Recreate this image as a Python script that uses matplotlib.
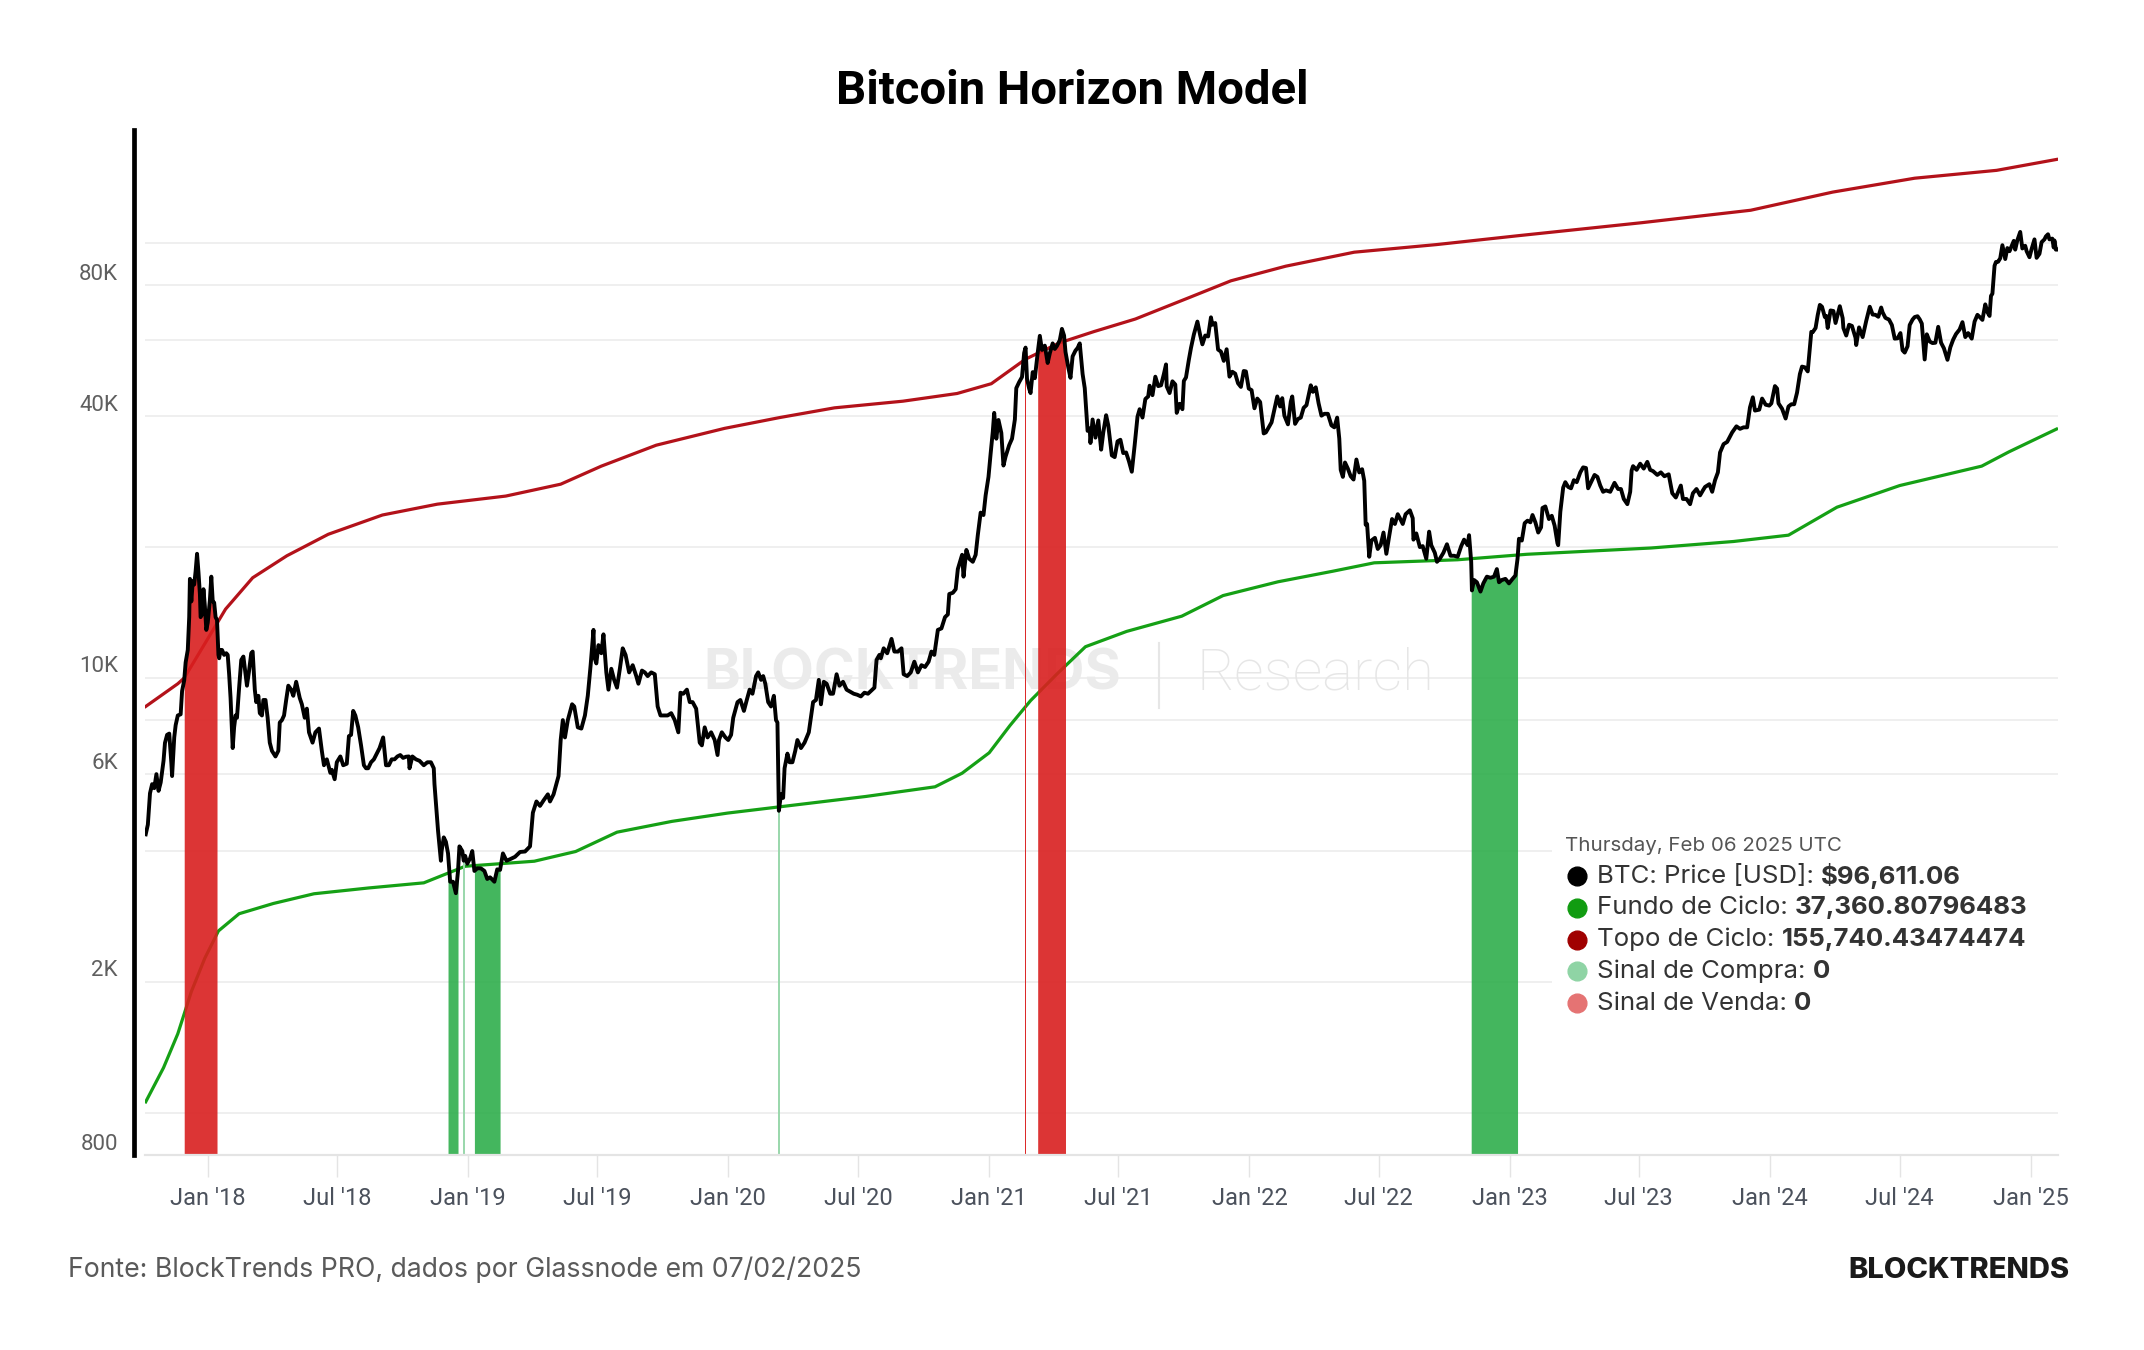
import pandas as pd
import matplotlib
matplotlib.use("Agg")
import matplotlib.pyplot as plt
import matplotlib.dates as mdates
import matplotlib.transforms as mtransforms
from matplotlib.patches import Rectangle
from matplotlib.lines import Line2D
from matplotlib.ticker import NullLocator

# BTC price (USD)
btc_price = [
    ("2017-10-06", 4370), ("2017-10-09", 4600), ("2017-10-12", 5430), ("2017-10-15", 5700),
    ("2017-10-18", 5580), ("2017-10-21", 6010), ("2017-10-24", 5500), ("2017-10-27", 5750),
    ("2017-10-31", 6450), ("2017-11-02", 7090), ("2017-11-05", 7400), ("2017-11-08", 7450),
    ("2017-11-11", 6360), ("2017-11-12", 5950), ("2017-11-15", 7300), ("2017-11-17", 7790),
    ("2017-11-20", 8200), ("2017-11-24", 8250), ("2017-11-26", 9330), ("2017-11-29", 9880),
    ("2017-12-01", 10860), ("2017-12-04", 11600), ("2017-12-06", 13800), ("2017-12-07", 16900),
    ("2017-12-09", 15000), ("2017-12-11", 16700), ("2017-12-13", 16400), ("2017-12-15", 17600),
    ("2017-12-17", 19300), ("2017-12-19", 17500), ("2017-12-21", 15600), ("2017-12-22", 13800),
    ("2017-12-24", 14000), ("2017-12-26", 16000), ("2017-12-28", 14600), ("2017-12-30", 12900),
    ("2018-01-01", 13400), ("2018-01-04", 15100), ("2018-01-06", 17100), ("2018-01-08", 15000),
    ("2018-01-10", 14900), ("2018-01-12", 13800), ("2018-01-14", 13600), ("2018-01-16", 11300),
    ("2018-01-17", 11100), ("2018-01-19", 11600), ("2018-01-21", 11600), ("2018-01-24", 11300),
    ("2018-01-27", 11400), ("2018-01-29", 11300), ("2018-01-31", 10200), ("2018-02-02", 9000),
    ("2018-02-05", 6900), ("2018-02-07", 7700), ("2018-02-09", 8200), ("2018-02-11", 8100),
    ("2018-02-14", 9500), ("2018-02-17", 11000), ("2018-02-20", 11200), ("2018-02-23", 10200),
    ("2018-02-25", 9600), ("2018-02-28", 10400), ("2018-03-03", 11400), ("2018-03-05", 11500),
    ("2018-03-08", 9400), ("2018-03-10", 8800), ("2018-03-13", 9100), ("2018-03-15", 8300),
    ("2018-03-18", 8200), ("2018-03-20", 8900), ("2018-03-23", 8900), ("2018-03-26", 8100),
    ("2018-03-29", 7100), ("2018-04-01", 6800), ("2018-04-06", 6600), ("2018-04-10", 6800),
    ("2018-04-12", 7900), ("2018-04-15", 8000), ("2018-04-18", 8200), ("2018-04-21", 8900),
    ("2018-04-24", 9600), ("2018-04-28", 9400), ("2018-05-01", 9100), ("2018-05-05", 9800),
    ("2018-05-10", 9000), ("2018-05-13", 8700), ("2018-05-17", 8100), ("2018-05-20", 8500),
    ("2018-05-23", 7500), ("2018-05-28", 7100), ("2018-06-01", 7500), ("2018-06-06", 7650),
    ("2018-06-10", 6800), ("2018-06-13", 6300), ("2018-06-17", 6500), ("2018-06-22", 6050),
    ("2018-06-24", 6150), ("2018-06-28", 5850), ("2018-07-01", 6400), ("2018-07-06", 6600),
    ("2018-07-10", 6300), ("2018-07-15", 6350), ("2018-07-18", 7350), ("2018-07-21", 7400),
    ("2018-07-24", 8400), ("2018-07-27", 8200), ("2018-07-31", 7700), ("2018-08-04", 7000),
    ("2018-08-08", 6300), ("2018-08-11", 6200), ("2018-08-14", 6200), ("2018-08-18", 6400),
    ("2018-08-22", 6500), ("2018-08-26", 6700), ("2018-08-30", 6900), ("2018-09-04", 7300),
    ("2018-09-08", 6300), ("2018-09-12", 6300), ("2018-09-16", 6500), ("2018-09-20", 6500),
    ("2018-09-24", 6600), ("2018-09-28", 6650), ("2018-10-02", 6550), ("2018-10-06", 6590),
    ("2018-10-10", 6600), ("2018-10-11", 6200), ("2018-10-15", 6600), ("2018-10-20", 6500),
    ("2018-10-25", 6450), ("2018-10-31", 6300), ("2018-11-05", 6400), ("2018-11-10", 6400),
    ("2018-11-14", 6200), ("2018-11-15", 5700), ("2018-11-19", 4700), ("2018-11-20", 4450),
    ("2018-11-24", 3800), ("2018-11-25", 4000), ("2018-11-28", 4300), ("2018-12-01", 4200),
    ("2018-12-04", 3950), ("2018-12-07", 3400), ("2018-12-11", 3400), ("2018-12-15", 3200),
    ("2018-12-18", 3600), ("2018-12-20", 4100), ("2018-12-24", 4000), ("2018-12-26", 3800),
    ("2018-12-28", 3900), ("2018-12-31", 3740), ("2019-01-04", 3850), ("2019-01-07", 4000),
    ("2019-01-10", 3600), ("2019-01-14", 3650), ("2019-01-19", 3650), ("2019-01-24", 3600),
    ("2019-01-28", 3450), ("2019-02-01", 3480), ("2019-02-07", 3400), ("2019-02-11", 3630),
    ("2019-02-15", 3620), ("2019-02-19", 3950), ("2019-02-24", 3800), ("2019-03-01", 3830),
    ("2019-03-08", 3880), ("2019-03-15", 3980), ("2019-03-22", 3990), ("2019-03-29", 4100),
    ("2019-04-02", 4900), ("2019-04-07", 5200), ("2019-04-12", 5080), ("2019-04-17", 5230),
    ("2019-04-23", 5400), ("2019-04-26", 5200), ("2019-05-01", 5400), ("2019-05-08", 5950),
    ("2019-05-11", 7200), ("2019-05-14", 8000), ("2019-05-17", 7300), ("2019-05-21", 8000),
    ("2019-05-27", 8700), ("2019-05-30", 8600), ("2019-06-04", 7700), ("2019-06-09", 7650),
    ("2019-06-14", 8200), ("2019-06-18", 9100), ("2019-06-22", 10700), ("2019-06-26", 12900),
    ("2019-06-27", 11200), ("2019-06-30", 10800), ("2019-07-03", 11900), ("2019-07-07", 11400),
    ("2019-07-10", 12600), ("2019-07-14", 10300), ("2019-07-17", 9400), ("2019-07-21", 10500),
    ("2019-07-25", 9900), ("2019-07-29", 9500), ("2019-08-02", 10500), ("2019-08-06", 11700),
    ("2019-08-10", 11300), ("2019-08-15", 10300), ("2019-08-20", 10700), ("2019-08-25", 10100),
    ("2019-08-28", 9700), ("2019-09-02", 10400), ("2019-09-06", 10300), ("2019-09-10", 10100),
    ("2019-09-15", 10300), ("2019-09-20", 10200), ("2019-09-24", 8600), ("2019-09-28", 8200),
    ("2019-10-03", 8200), ("2019-10-08", 8200), ("2019-10-13", 8300), ("2019-10-18", 8000),
    ("2019-10-23", 7500), ("2019-10-26", 9250), ("2019-10-30", 9200), ("2019-11-04", 9400),
    ("2019-11-08", 8800), ("2019-11-12", 8800), ("2019-11-17", 8500), ("2019-11-22", 7100),
    ("2019-11-25", 7000), ("2019-11-29", 7700), ("2019-12-03", 7300), ("2019-12-08", 7500),
    ("2019-12-13", 7200), ("2019-12-17", 6650), ("2019-12-19", 7200), ("2019-12-23", 7500),
    ("2019-12-28", 7300), ("2020-01-01", 7200), ("2020-01-05", 7400), ("2020-01-08", 8100),
    ("2020-01-14", 8800), ("2020-01-18", 8900), ("2020-01-23", 8400), ("2020-01-27", 8900),
    ("2020-01-31", 9400), ("2020-02-04", 9200), ("2020-02-09", 10100), ("2020-02-12", 10300),
    ("2020-02-16", 9900), ("2020-02-19", 10100), ("2020-02-22", 9700), ("2020-02-26", 8800),
    ("2020-03-01", 8600), ("2020-03-05", 9100), ("2020-03-08", 8000), ("2020-03-10", 7900),
    ("2020-03-12", 4950), ("2020-03-15", 5400), ("2020-03-18", 5300), ("2020-03-20", 6200),
    ("2020-03-24", 6700), ("2020-03-27", 6400), ("2020-03-31", 6400), ("2020-04-04", 6800),
    ("2020-04-07", 7200), ("2020-04-12", 6900), ("2020-04-17", 7100), ("2020-04-23", 7500),
    ("2020-04-29", 8800), ("2020-05-03", 8900), ("2020-05-07", 9900), ("2020-05-10", 8700),
    ("2020-05-14", 9800), ("2020-05-18", 9700), ("2020-05-23", 9200), ("2020-05-27", 9200),
    ("2020-06-01", 10200), ("2020-06-05", 9600), ("2020-06-10", 9800), ("2020-06-15", 9400),
    ("2020-06-20", 9300), ("2020-06-25", 9200), ("2020-06-30", 9150), ("2020-07-05", 9070),
    ("2020-07-10", 9250), ("2020-07-15", 9200), ("2020-07-21", 9400), ("2020-07-24", 9500),
    ("2020-07-27", 11000), ("2020-07-31", 11300), ("2020-08-02", 11100), ("2020-08-06", 11700),
    ("2020-08-11", 11400), ("2020-08-17", 12300), ("2020-08-21", 11500), ("2020-08-26", 11500),
    ("2020-08-31", 11700), ("2020-09-03", 10200), ("2020-09-08", 10100), ("2020-09-13", 10300),
    ("2020-09-18", 10900), ("2020-09-23", 10300), ("2020-09-28", 10700), ("2020-10-03", 10600),
    ("2020-10-08", 10900), ("2020-10-12", 11500), ("2020-10-16", 11300), ("2020-10-21", 12900),
    ("2020-10-26", 13000), ("2020-10-31", 13800), ("2020-11-04", 14000), ("2020-11-06", 15600),
    ("2020-11-11", 15700), ("2020-11-15", 16000), ("2020-11-18", 17800), ("2020-11-24", 19200),
    ("2020-11-26", 17100), ("2020-11-30", 19700), ("2020-12-04", 18800), ("2020-12-09", 18500),
    ("2020-12-13", 19200), ("2020-12-16", 21300), ("2020-12-20", 24000), ("2020-12-24", 23700),
    ("2020-12-27", 26300), ("2020-12-31", 29000), ("2021-01-03", 32800), ("2021-01-06", 36800),
    ("2021-01-08", 40700), ("2021-01-11", 35500), ("2021-01-14", 39200), ("2021-01-18", 36600),
    ("2021-01-21", 30800), ("2021-01-24", 32300), ("2021-01-29", 34300), ("2021-02-02", 35500),
    ("2021-02-06", 39300), ("2021-02-08", 46400), ("2021-02-12", 47900), ("2021-02-16", 49200),
    ("2021-02-19", 55900), ("2021-02-21", 57500), ("2021-02-23", 48800), ("2021-02-26", 46300),
    ("2021-02-28", 45200), ("2021-03-03", 50500), ("2021-03-06", 48900), ("2021-03-10", 55900),
    ("2021-03-13", 61200), ("2021-03-16", 56800), ("2021-03-20", 58100), ("2021-03-24", 53000),
    ("2021-03-27", 55800), ("2021-03-31", 58800), ("2021-04-03", 57100), ("2021-04-06", 58000),
    ("2021-04-10", 59800), ("2021-04-13", 63500), ("2021-04-16", 61300), ("2021-04-18", 56200),
    ("2021-04-22", 51700), ("2021-04-25", 49000), ("2021-04-28", 54900), ("2021-05-02", 56600),
    ("2021-05-05", 57400), ("2021-05-08", 58800), ("2021-05-12", 50000), ("2021-05-15", 46400),
    ("2021-05-19", 37000), ("2021-05-22", 37500), ("2021-05-23", 34700), ("2021-05-26", 39300),
    ("2021-05-30", 35700), ("2021-06-03", 39100), ("2021-06-07", 33500), ("2021-06-10", 36700),
    ("2021-06-14", 40200), ("2021-06-17", 38100), ("2021-06-22", 32500), ("2021-06-26", 32200),
    ("2021-06-30", 35000), ("2021-07-04", 35300), ("2021-07-08", 32900), ("2021-07-12", 33000),
    ("2021-07-16", 31500), ("2021-07-20", 29800), ("2021-07-24", 34300), ("2021-07-28", 39900),
    ("2021-07-31", 41500), ("2021-08-04", 39700), ("2021-08-08", 43800), ("2021-08-12", 44400),
    ("2021-08-14", 47000), ("2021-08-18", 44700), ("2021-08-22", 49300), ("2021-08-26", 46900),
    ("2021-08-30", 47100), ("2021-09-03", 50000), ("2021-09-06", 52600), ("2021-09-07", 46800),
    ("2021-09-11", 45200), ("2021-09-15", 48100), ("2021-09-19", 47300), ("2021-09-21", 40700),
    ("2021-09-25", 42700), ("2021-09-29", 41500), ("2021-10-01", 48200), ("2021-10-04", 49100),
    ("2021-10-08", 53900), ("2021-10-11", 57400), ("2021-10-15", 61600), ("2021-10-20", 66000),
    ("2021-10-24", 61300), ("2021-10-27", 58500), ("2021-10-31", 61300), ("2021-11-04", 61000),
    ("2021-11-08", 67500), ("2021-11-10", 64900), ("2021-11-14", 65500), ("2021-11-18", 56900),
    ("2021-11-22", 56300), ("2021-11-26", 53600), ("2021-11-30", 57000), ("2021-12-04", 49300),
    ("2021-12-08", 50600), ("2021-12-12", 50100), ("2021-12-16", 47600), ("2021-12-20", 46700),
    ("2021-12-24", 50800), ("2021-12-27", 50700), ("2021-12-31", 46300), ("2022-01-04", 45900),
    ("2022-01-08", 41700), ("2022-01-12", 43900), ("2022-01-16", 43100), ("2022-01-21", 36500),
    ("2022-01-24", 36700), ("2022-01-28", 37700), ("2022-02-01", 38700), ("2022-02-05", 41400),
    ("2022-02-09", 44400), ("2022-02-13", 42100), ("2022-02-16", 44000), ("2022-02-19", 40100),
    ("2022-02-24", 38300), ("2022-02-28", 43200), ("2022-03-02", 44400), ("2022-03-06", 38400),
    ("2022-03-10", 39400), ("2022-03-14", 39700), ("2022-03-18", 41800), ("2022-03-22", 42400),
    ("2022-03-28", 47100), ("2022-03-31", 45500), ("2022-04-04", 46600), ("2022-04-08", 42800),
    ("2022-04-12", 40100), ("2022-04-16", 40500), ("2022-04-21", 40500), ("2022-04-26", 38100),
    ("2022-04-30", 37700), ("2022-05-04", 39700), ("2022-05-07", 35500), ("2022-05-09", 30100),
    ("2022-05-12", 29000), ("2022-05-15", 31300), ("2022-05-19", 30300), ("2022-05-23", 29100),
    ("2022-05-27", 28600), ("2022-05-31", 31800), ("2022-06-04", 29700), ("2022-06-08", 30200),
    ("2022-06-11", 28400), ("2022-06-13", 22500), ("2022-06-15", 22600), ("2022-06-18", 19000),
    ("2022-06-21", 20700), ("2022-06-26", 21000), ("2022-06-30", 19800), ("2022-07-04", 20200),
    ("2022-07-08", 21600), ("2022-07-12", 19300), ("2022-07-16", 21200), ("2022-07-20", 23200),
    ("2022-07-24", 22600), ("2022-07-28", 23800), ("2022-07-31", 23300), ("2022-08-04", 22600),
    ("2022-08-08", 23800), ("2022-08-14", 24300), ("2022-08-18", 23300), ("2022-08-19", 20800),
    ("2022-08-23", 21500), ("2022-08-28", 20000), ("2022-09-01", 20100), ("2022-09-06", 18800),
    ("2022-09-10", 21700), ("2022-09-13", 20200), ("2022-09-18", 19400), ("2022-09-21", 18500),
    ("2022-09-25", 18800), ("2022-09-30", 19400), ("2022-10-05", 20300), ("2022-10-10", 19100),
    ("2022-10-15", 19100), ("2022-10-20", 19000), ("2022-10-25", 20100), ("2022-10-29", 20800),
    ("2022-11-03", 20200), ("2022-11-05", 21300), ("2022-11-08", 18500), ("2022-11-09", 15900),
    ("2022-11-12", 16800), ("2022-11-16", 16600), ("2022-11-21", 15800), ("2022-11-25", 16500),
    ("2022-11-30", 17100), ("2022-12-05", 17000), ("2022-12-10", 17100), ("2022-12-14", 17800),
    ("2022-12-17", 16600), ("2022-12-21", 16800), ("2022-12-26", 16900), ("2022-12-31", 16500),
    ("2023-01-05", 16900), ("2023-01-09", 17200), ("2023-01-12", 18800), ("2023-01-14", 20900),
    ("2023-01-18", 20700), ("2023-01-22", 22700), ("2023-01-26", 23000), ("2023-01-30", 22800),
    ("2023-02-02", 23700), ("2023-02-06", 22800), ("2023-02-10", 21600), ("2023-02-14", 22200),
    ("2023-02-16", 24600), ("2023-02-20", 24800), ("2023-02-25", 23200), ("2023-03-01", 23600),
    ("2023-03-05", 22400), ("2023-03-09", 20400), ("2023-03-10", 20200), ("2023-03-13", 24100),
    ("2023-03-17", 27400), ("2023-03-20", 28200), ("2023-03-24", 27500), ("2023-03-28", 27300),
    ("2023-04-01", 28500), ("2023-04-05", 28200), ("2023-04-10", 29700), ("2023-04-14", 30500),
    ("2023-04-18", 30400), ("2023-04-21", 27300), ("2023-04-26", 28400), ("2023-04-30", 29300),
    ("2023-05-04", 29000), ("2023-05-08", 27700), ("2023-05-12", 26800), ("2023-05-16", 27000),
    ("2023-05-22", 26800), ("2023-05-28", 28100), ("2023-06-02", 27200), ("2023-06-06", 27200),
    ("2023-06-10", 25800), ("2023-06-15", 25100), ("2023-06-19", 26800), ("2023-06-21", 30000),
    ("2023-06-23", 30700), ("2023-06-28", 30100), ("2023-07-03", 31100), ("2023-07-08", 30300),
    ("2023-07-13", 31400), ("2023-07-17", 30100), ("2023-07-21", 29900), ("2023-07-27", 29300),
    ("2023-08-01", 29700), ("2023-08-06", 29100), ("2023-08-12", 29400), ("2023-08-17", 26600),
    ("2023-08-22", 26000), ("2023-08-29", 27700), ("2023-09-01", 25800), ("2023-09-06", 25800),
    ("2023-09-11", 25100), ("2023-09-15", 26600), ("2023-09-20", 27200), ("2023-09-25", 26300),
    ("2023-09-29", 27000), ("2023-10-02", 27500), ("2023-10-08", 27900), ("2023-10-12", 26800),
    ("2023-10-16", 28500), ("2023-10-20", 29700), ("2023-10-23", 33000), ("2023-10-28", 34500),
    ("2023-11-02", 34900), ("2023-11-09", 36700), ("2023-11-15", 37900), ("2023-11-20", 37400),
    ("2023-11-25", 37700), ("2023-11-30", 37700), ("2023-12-04", 41900), ("2023-12-08", 44200),
    ("2023-12-11", 41200), ("2023-12-17", 41400), ("2023-12-21", 43900), ("2023-12-26", 42500),
    ("2023-12-31", 42300), ("2024-01-03", 42800), ("2024-01-08", 46900), ("2024-01-11", 46300),
    ("2024-01-13", 42800), ("2024-01-18", 41600), ("2024-01-23", 39500), ("2024-01-27", 42100),
    ("2024-01-31", 42600), ("2024-02-04", 42600), ("2024-02-08", 45300), ("2024-02-12", 50000),
    ("2024-02-15", 52000), ("2024-02-19", 51800), ("2024-02-23", 50700), ("2024-02-28", 62500),
    ("2024-03-01", 62400), ("2024-03-05", 63800), ("2024-03-08", 68300), ("2024-03-11", 72100),
    ("2024-03-14", 71400), ("2024-03-18", 67600), ("2024-03-20", 68000), ("2024-03-22", 63800),
    ("2024-03-26", 70000), ("2024-03-30", 69800), ("2024-04-02", 65500), ("2024-04-08", 71600),
    ("2024-04-12", 67200), ("2024-04-13", 63800), ("2024-04-17", 61300), ("2024-04-21", 64900),
    ("2024-04-25", 64500), ("2024-04-30", 60600), ("2024-05-01", 58300), ("2024-05-05", 64000),
    ("2024-05-10", 60800), ("2024-05-15", 66200), ("2024-05-20", 71400), ("2024-05-24", 68500),
    ("2024-05-28", 68400), ("2024-06-01", 67700), ("2024-06-05", 71100), ("2024-06-07", 69300),
    ("2024-06-11", 67300), ("2024-06-16", 66700), ("2024-06-20", 64800), ("2024-06-24", 60300),
    ("2024-06-28", 60400), ("2024-07-02", 62100), ("2024-07-05", 56700), ("2024-07-08", 56000),
    ("2024-07-12", 57900), ("2024-07-15", 64800), ("2024-07-19", 66700), ("2024-07-22", 67600),
    ("2024-07-26", 67900), ("2024-07-29", 66800), ("2024-08-01", 65300), ("2024-08-05", 54000),
    ("2024-08-08", 61700), ("2024-08-12", 59400), ("2024-08-16", 58900), ("2024-08-20", 59000),
    ("2024-08-24", 64200), ("2024-08-28", 59000), ("2024-09-01", 57300), ("2024-09-06", 53900),
    ("2024-09-10", 57600), ("2024-09-14", 60000), ("2024-09-18", 61800), ("2024-09-23", 63300),
    ("2024-09-27", 65800), ("2024-10-01", 60800), ("2024-10-05", 62100), ("2024-10-10", 60300),
    ("2024-10-14", 66000), ("2024-10-18", 68400), ("2024-10-22", 67400), ("2024-10-25", 66600),
    ("2024-10-29", 72300), ("2024-11-01", 69400), ("2024-11-04", 68000), ("2024-11-06", 75600),
    ("2024-11-08", 76500), ("2024-11-11", 88700), ("2024-11-13", 90500), ("2024-11-16", 90600),
    ("2024-11-19", 92300), ("2024-11-22", 98900), ("2024-11-26", 91900), ("2024-11-29", 97400),
    ("2024-12-02", 95800), ("2024-12-05", 98500), ("2024-12-08", 101200), ("2024-12-10", 96600),
    ("2024-12-13", 101500), ("2024-12-17", 106100), ("2024-12-20", 97200), ("2024-12-24", 98600),
    ("2024-12-26", 95800), ("2024-12-30", 92800), ("2025-01-02", 96900), ("2025-01-06", 102000),
    ("2025-01-09", 92500), ("2025-01-13", 94500), ("2025-01-16", 100500), ("2025-01-20", 102000),
    ("2025-01-22", 103600), ("2025-01-25", 104800), ("2025-01-27", 102000), ("2025-01-31", 102400),
    ("2025-02-02", 97700), ("2025-02-03", 101400), ("2025-02-05", 96600), ("2025-02-06", 96611),
]

# Topo de Ciclo (red line)
cycle_top = [
    ("2017-10-06", 8600), ("2017-11-20", 9700), ("2017-11-29", 10000), ("2017-12-28", 12000),
    ("2018-01-26", 14400), ("2018-03-05", 17000), ("2018-04-22", 19100), ("2018-06-19", 21400),
    ("2018-09-03", 23700), ("2018-11-19", 25100), ("2019-02-23", 26200), ("2019-05-11", 27900),
    ("2019-07-07", 30700), ("2019-09-22", 34300), ("2019-12-27", 37500), ("2020-03-13", 39700),
    ("2020-05-29", 41800), ("2020-09-02", 43300), ("2020-11-17", 45100), ("2021-01-04", 47500),
    ("2021-02-21", 54100), ("2021-04-10", 59000), ("2021-05-28", 62600), ("2021-07-25", 66900),
    ("2021-10-09", 75000), ("2021-12-06", 81900), ("2022-02-21", 88500), ("2022-05-28", 95300),
    ("2022-09-20", 99200), ("2023-01-13", 104000), ("2023-07-05", 111400), ("2023-12-05", 119000),
    ("2024-03-29", 131000), ("2024-07-22", 141000), ("2024-11-14", 147000), ("2025-02-06", 155740),
]

# Fundo de Ciclo (green line)
cycle_bottom = [
    ("2017-10-06", 1060), ("2017-10-31", 1270), ("2017-11-20", 1520), ("2017-12-09", 1900),
    ("2017-12-28", 2270), ("2018-01-16", 2620), ("2018-02-14", 2870), ("2018-04-03", 3030),
    ("2018-05-30", 3190), ("2018-08-15", 3290), ("2018-10-31", 3380), ("2018-12-28", 3690),
    ("2019-04-04", 3790), ("2019-06-01", 3990), ("2019-07-29", 4420), ("2019-10-14", 4680),
    ("2019-12-31", 4890), ("2020-04-06", 5110), ("2020-07-12", 5340), ("2020-10-17", 5620),
    ("2020-11-24", 6040), ("2021-01-01", 6730), ("2021-01-30", 7770), ("2021-02-28", 8870),
    ("2021-04-07", 10250), ("2021-05-16", 11800), ("2021-07-13", 12800), ("2021-09-28", 13870),
    ("2021-11-25", 15470), ("2022-02-10", 16640), ("2022-04-28", 17600), ("2022-06-25", 18400),
    ("2022-10-20", 18700), ("2023-01-25", 19250), ("2023-07-18", 19900), ("2023-11-11", 20600),
    ("2024-01-27", 21300), ("2024-04-04", 24700), ("2024-07-01", 27700), ("2024-10-24", 30700),
    ("2024-12-01", 33100), ("2025-02-06", 37360),
]

# signal periods (Sinal de Venda / Sinal de Compra)
sell_periods = [("2017-11-29", "2018-01-14"), ("2021-02-21", "2021-02-21"), ("2021-03-10", "2021-04-18")]
buy_periods = [("2018-12-04", "2018-12-18"), ("2018-12-26", "2018-12-26"), ("2019-01-10", "2019-02-18"),
               ("2020-03-12", "2020-03-12"), ("2022-11-08", "2023-01-12")]

grid_values = [1000, 2000, 4000, 6000, 8000, 10000, 20000, 40000, 60000, 80000, 100000]
ylabel_values = [800, 2000, 6000, 10000, 40000, 80000]
ylabel_text = ["800", "2K", "6K", "10K", "40K", "80K"]

legend_date = "Thursday, Feb 06 2025 UTC"
legend_names = ["BTC: Price [USD]: ", "Fundo de Ciclo: ", "Topo de Ciclo: ", "Sinal de Compra: ", "Sinal de Venda: "]
legend_values = ["$96,611.06", "37,360.80796483", "155,740.43474474", "0", "0"]
legend_colors = ["#000000", "#119c11", "#a00000", "#8fd4a5", "#e57373"]

W, H = 2144, 1350
plt.rcParams["font.family"] = ["Roboto", "DejaVu Sans"]


def fx(x):
    return x / W


def fy(y):
    return 1 - y / H


def to_frame(rows):
    df = pd.DataFrame(rows, columns=["date", "value"])
    df["date"] = pd.to_datetime(df["date"])
    return df


price = to_frame(btc_price)
top = to_frame(cycle_top)
bottom = to_frame(cycle_bottom)

fig = plt.figure(figsize=(W / 100, H / 100), dpi=100)
ax = fig.add_axes([fx(145), fy(1155), fx(2058) - fx(145), fy(130) - fy(1155)])

ax.set_yscale("log")
ax.set_ylim(800, 182000)
ax.set_xlim(pd.Timestamp("2017-10-05"), pd.Timestamp("2025-02-08"))

ax.plot(top["date"], top["value"], color="#b3121a", lw=2.3, zorder=2.2)
ax.plot(bottom["date"], bottom["value"], color="#15a015", lw=2.3, zorder=2.2)


def draw_signals(periods, color, light_color):
    for start, end in periods:
        m = (price["date"] >= pd.Timestamp(start)) & (price["date"] <= pd.Timestamp(end))
        d = price.loc[m, "date"]
        v = price.loc[m, "value"]
        if len(d) == 1:
            ax.bar(d, v - 800, bottom=800, width=2.5, color=light_color, zorder=2.5, lw=0)
        else:
            ax.fill_between(d, 800, v, color=color, alpha=0.9, lw=0, zorder=2.5)


draw_signals(sell_periods, "#d91f1f", "#dc2a2a")
draw_signals(buy_periods, "#2fae4c", "#9bd8ad")

ax.plot(price["date"], price["value"], color="black", lw=2.8, zorder=4, solid_joinstyle="round")

# axes styling
ax.set_yticks(grid_values)
ax.set_yticklabels([])
ax.yaxis.set_minor_locator(NullLocator())
ax.tick_params(axis="y", length=0)
ax.grid(axis="y", color="#efefef", lw=1.4)
ax.set_axisbelow(True)

ax.xaxis.set_major_locator(mdates.MonthLocator(bymonth=[1, 7]))
ax.xaxis.set_major_formatter(mdates.DateFormatter("%b '%y"))
ax.tick_params(axis="x", length=16, width=1.0, color="#e4e4e4", pad=7,
               labelsize=17, labelcolor="#4b515c")

for s in ["top", "right"]:
    ax.spines[s].set_visible(False)
ax.spines["bottom"].set_color("#e4e4e4")
ax.spines["bottom"].set_linewidth(1.6)
ax.spines["left"].set_color("black")
ax.spines["left"].set_linewidth(3.4)
ax.spines["left"].set_position(("outward", 8))

# y labels sit a little above their values
ylab_tr = mtransforms.blended_transform_factory(ax.transAxes, ax.transData) + \
    mtransforms.ScaledTranslation(-27 / 100, 11 / 100, fig.dpi_scale_trans)
for v, s in zip(ylabel_values, ylabel_text):
    ax.text(0, v, s, transform=ylab_tr, ha="right", va="center", fontsize=16, color="#5f5f5f",
            clip_on=False)

# watermark
ax.text(fx(1121), fy(674), "BLOCKTRENDS", transform=fig.transFigure, ha="right", va="center",
        fontsize=40, fontweight="bold", family=["Inter", "DejaVu Sans"], color="#ebebeb", zorder=1.6)
ax.add_line(Line2D([fx(1159), fx(1159)], [fy(643), fy(708)], transform=fig.transFigure,
                   color="#e6e6e6", lw=1.5, zorder=1.6))
ax.text(fx(1196), fy(674), "Research", transform=fig.transFigure, ha="left", va="center",
        fontsize=42, fontweight="light", color="#e6e6e6", zorder=1.6)

# legend box
ax.add_patch(Rectangle((fx(1552), fy(1022)), fx(2060) - fx(1552), fy(825) - fy(1022),
                       transform=fig.transFigure, facecolor="white", edgecolor="none",
                       zorder=6, clip_on=False))
ax.text(fx(1565), fy(846), legend_date, transform=fig.transFigure, ha="left", va="center",
        fontsize=14.8, color="#555555", family=["Inter", "DejaVu Sans"], zorder=7)
for i, (name, val, col) in enumerate(zip(legend_names, legend_values, legend_colors)):
    yy = 876 + i * 31.8
    ax.plot([fx(1577)], [fy(yy)], "o", ms=13.5, color=col, transform=fig.transFigure,
            clip_on=False, zorder=7)
    t = ax.text(fx(1597), fy(yy), name, transform=fig.transFigure, ha="left", va="center",
                fontsize=18.6, color="#333333", family=["Inter", "DejaVu Sans"], zorder=7,
                parse_math=False)
    ax.annotate(val, xy=(1, 0.5), xycoords=t, ha="left", va="center", fontsize=18.6,
                fontweight="bold", color="#333333", family=["Inter", "DejaVu Sans"],
                zorder=7, annotation_clip=False, parse_math=False)

# title and footer
fig.text(fx(1072), fy(104), "Bitcoin Horizon Model", ha="center", va="baseline",
         fontsize=34, fontweight="bold", color="black")
fig.text(fx(68), fy(1270), "Fonte: BlockTrends PRO, dados por Glassnode em 07/02/2025",
         ha="left", va="center", fontsize=19.2, color="#5a5a5a", family=["Inter", "DejaVu Sans"])
fig.text(fx(2069), fy(1270), "BLOCKTRENDS", ha="right", va="center", fontsize=21,
         fontweight="heavy", color="#1a1a1a", family=["Inter", "DejaVu Sans"])

fig.savefig("out.png", dpi=100, facecolor="white")
